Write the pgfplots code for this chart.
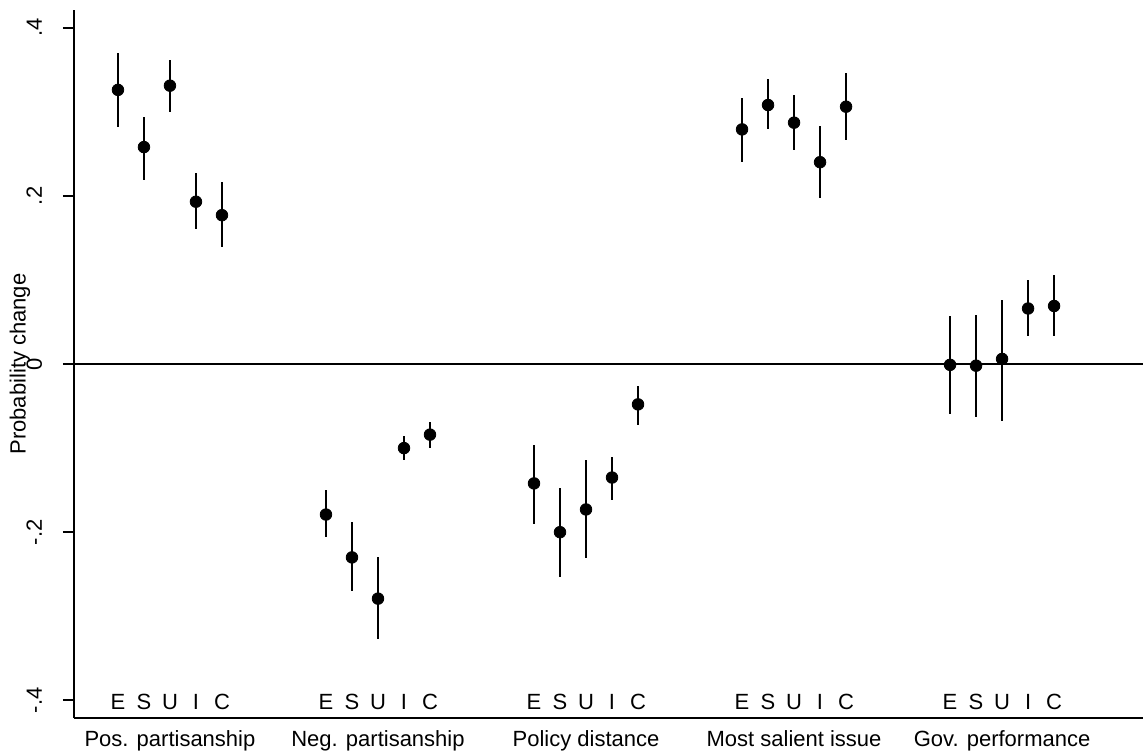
\documentclass[border=0pt]{standalone}
\usepackage{fontspec}
\setmainfont{Liberation Sans}
\usepackage{pgfplots}
\pgfplotsset{compat=1.18}
\usepackage{pgfplotstable}

\pgfplotstableread{
x y lo hi
0 0.326 0.282 0.370
1 0.258 0.219 0.294
2 0.331 0.300 0.362
3 0.193 0.160 0.227
4 0.177 0.139 0.216
}\posp
\pgfplotstableread{
x y lo hi
8  -0.179 -0.206 -0.150
9  -0.230 -0.270 -0.188
10 -0.279 -0.327 -0.229
11 -0.100 -0.114 -0.086
12 -0.084 -0.100 -0.069
}\negp
\pgfplotstableread{
x y lo hi
16 -0.142 -0.190 -0.096
17 -0.200 -0.253 -0.147
18 -0.173 -0.231 -0.114
19 -0.135 -0.162 -0.110
20 -0.048 -0.073 -0.026
}\pold
\pgfplotstableread{
x y lo hi
24 0.279 0.240 0.316
25 0.308 0.279 0.339
26 0.287 0.254 0.320
27 0.240 0.198 0.283
28 0.306 0.266 0.346
}\msal
\pgfplotstableread{
x y lo hi
32 -0.001 -0.060 0.057
33 -0.002 -0.063 0.058
34 0.006 -0.068 0.076
35 0.066 0.033 0.100
36 0.069 0.033 0.106
}\govp

\begin{document}
\begin{tikzpicture}[font=\fontsize{11}{13}\selectfont]
\begin{axis}[
  scale only axis, width=534.5pt, height=354pt,
  xmin=-1.69, xmax=39.42, ymin=-0.421, ymax=0.421,
  axis x line*=bottom, axis y line*=left,
  axis line style={line width=1pt, black, -},
  xtick={2,10,18,26,34},
  xticklabels={Pos. partisanship, Neg. partisanship, Policy distance, Most salient issue, Gov. performance},
  x tick style={draw=none},
  xticklabel style={anchor=base, yshift=-8.5pt},
  ytick={-0.4,-0.2,0,0.2,0.4},
  yticklabels={-.4,-.2,0,.2,.4},
  y tick style={line width=1pt, black},
  tick align=outside, major tick length=5.5pt,
  yticklabel style={rotate=90, anchor=base, inner sep=0pt, yshift=10.5pt},
  ylabel={Probability change},
  ylabel style={at={(axis description cs:0,0.5)}, anchor=center, yshift=27pt},
  clip=false,
]
\addplot[black, line width=1pt] coordinates {(-1.69,0) (39.42,0)};
\pgfplotsset{myerr/.style={only marks, mark=*, mark size=2.9pt, black,
  error bars/.cd, y dir=both, y explicit, error mark=none,
  error bar style={line width=1pt, black}}}
\addplot[myerr] table[x=x, y=y, y error plus expr=\thisrow{hi}-\thisrow{y}, y error minus expr=\thisrow{y}-\thisrow{lo}] {\posp};
\addplot[myerr] table[x=x, y=y, y error plus expr=\thisrow{hi}-\thisrow{y}, y error minus expr=\thisrow{y}-\thisrow{lo}] {\negp};
\addplot[myerr] table[x=x, y=y, y error plus expr=\thisrow{hi}-\thisrow{y}, y error minus expr=\thisrow{y}-\thisrow{lo}] {\pold};
\addplot[myerr] table[x=x, y=y, y error plus expr=\thisrow{hi}-\thisrow{y}, y error minus expr=\thisrow{y}-\thisrow{lo}] {\msal};
\addplot[myerr] table[x=x, y=y, y error plus expr=\thisrow{hi}-\thisrow{y}, y error minus expr=\thisrow{y}-\thisrow{lo}] {\govp};
\pgfplotsinvokeforeach{0,8,16,24,32}{
  \node[anchor=base, inner sep=0pt, yshift=4.5pt] at (axis cs:#1,-0.421) {E};
  \node[anchor=base, inner sep=0pt, yshift=4.5pt] at (axis cs:#1+1,-0.421) {S};
  \node[anchor=base, inner sep=0pt, yshift=4.5pt] at (axis cs:#1+2,-0.421) {U};
  \node[anchor=base, inner sep=0pt, yshift=4.5pt] at (axis cs:#1+3,-0.421) {I};
  \node[anchor=base, inner sep=0pt, yshift=4.5pt] at (axis cs:#1+4,-0.421) {C};
}
\end{axis}
\pgfresetboundingbox
\path[use as bounding box] (-37pt,-16.5pt) rectangle (534.5pt,359pt);
\end{tikzpicture}
\end{document}
